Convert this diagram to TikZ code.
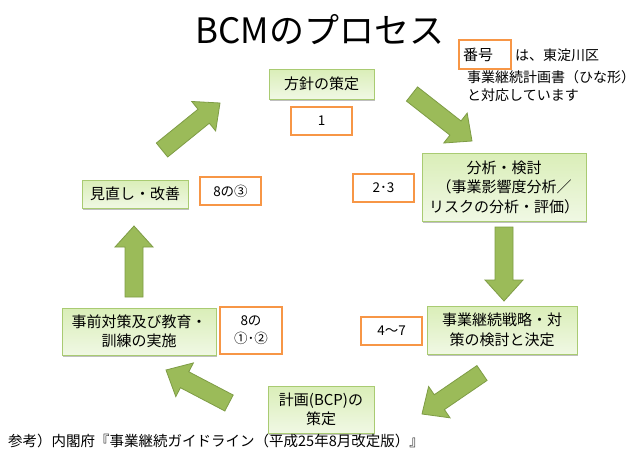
\documentclass[tikz,border=0pt]{standalone}
\usepackage{fontspec}
\setmainfont{Noto Sans CJK JP}
\usetikzlibrary{calc,shadows}
\definecolor{boxtop}{HTML}{DAEEB8}
\definecolor{boxbot}{HTML}{F0F8E4}
\definecolor{boxedge}{HTML}{A9CB72}
\definecolor{orng}{HTML}{F79646}
\definecolor{arrfill}{HTML}{9BBB59}
\definecolor{arredge}{HTML}{7E9C45}
\tikzset{
  stepbox/.style={draw=boxedge, line width=0.8pt, top color=boxtop, bottom color=boxbot,
    align=center, inner sep=0pt, font=\fontsize{15}{19.5}\selectfont,
    drop shadow={shadow xshift=1.2pt, shadow yshift=-1.5pt, opacity=0.25, fill=black}},
  numbox/.style={draw=orng, line width=1.8pt, fill=white, align=center, inner sep=0pt,
    minimum width=61pt, minimum height=28pt, font=\fontsize{13.5}{18}\selectfont},
  blockarr/.style={fill=arrfill, draw=arredge, line width=0.8pt, line join=miter},
  note/.style={anchor=west, inner sep=0pt, font=\fontsize{14}{16}\selectfont}
}
\newcommand\blockarrow[2]{%
  \draw[blockarr] let \p2=($(#2)!21pt!(#1)$) in
    ($(#1)!9pt!90:(#2)$) -- ($(\p2)!9pt!90:(#2)$) -- ($(\p2)!19pt!90:(#2)$) -- (#2)
    -- ($(\p2)!19pt!-90:(#2)$) -- ($(\p2)!9pt!-90:(#2)$) -- ($(#1)!9pt!-90:(#2)$) -- cycle;}
\begin{document}
\begin{tikzpicture}[x=1pt,y=-1pt]
\fill[white] (0,0) rectangle (642,452);
\useasboundingbox (0,0) rectangle (642,452);

\node[inner sep=0pt] (title) at (320,30) {\fontsize{35}{40}\selectfont BCMのプロセス};

% steps
\node[stepbox, minimum width=105pt, minimum height=30pt] (s1) at (321.5,84) {方針の策定};
\node[stepbox, minimum width=164pt, minimum height=68pt] (s2) at (504,187) {分析・検討\\（事業影響度分析／\\リスクの分析・評価）};
\node[stepbox, minimum width=150pt, minimum height=48pt] (s3) at (502,330) {事業継続戦略・対\\策の検討と決定};
\node[stepbox, minimum width=106pt, minimum height=47pt] (s4) at (321,409.5) {計画(BCP)の\\策定};
\node[stepbox, minimum width=154pt, minimum height=47pt] (s5) at (139,331.5) {事前対策及び教育・\\訓練の実施};
\node[stepbox, minimum width=106pt, minimum height=28pt] (s6) at (135,194) {見直し・改善};

% numbers
\node[numbox] (n1) at (321.5,121) {1};
\node[numbox] (n2) at (383.5,188) {2･3};
\node[numbox] (n3) at (391.5,331) {4～7};
\node[numbox, minimum width=62pt, minimum height=47pt] (n4) at (251,330.5) {8の\\①･②};
\node[numbox] (n5) at (230.5,191) {8の③};

% legend
\node[numbox, minimum width=52pt, minimum height=29pt, text width=44pt, align=left,
  font=\fontsize{15}{17}\selectfont] (leg) at (485,54.5) {番号};
\node[note] (legt1) at (515,55) {は、東淀川区};
\node[note] (legt2) at (467,77) {事業継続計画書（ひな形）};
\node[note] (legt3) at (467,95) {と対応しています};

% footer
\node[anchor=west, inner sep=0pt, font=\fontsize{14.5}{16}\selectfont] (ref) at (8,441)
  {参考）内閣府『事業継続ガイドライン（平成25年8月改定版）』};

% arrows
\coordinate (a1s) at (412,94);  \coordinate (a1e) at (472,141);
\coordinate (a2s) at (504,227); \coordinate (a2e) at (504,301);
\coordinate (a3s) at (482,373); \coordinate (a3e) at (422,414);
\coordinate (a4s) at (229,403); \coordinate (a4e) at (166,370);
\coordinate (a5s) at (134,297); \coordinate (a5e) at (134,226);
\coordinate (a6s) at (162,150); \coordinate (a6e) at (220,103);
\blockarrow{a1s}{a1e}
\blockarrow{a2s}{a2e}
\blockarrow{a3s}{a3e}
\blockarrow{a4s}{a4e}
\blockarrow{a5s}{a5e}
\blockarrow{a6s}{a6e}
\end{tikzpicture}
\end{document}
